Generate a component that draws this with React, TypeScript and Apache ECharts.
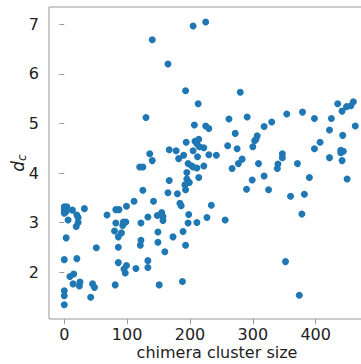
import React, { useEffect, useRef } from "react";
import * as echarts from "echarts";

const clusterSize: number[] = [
  0, 4, 0, 3, 0, 13, 20, 22, 32, 6, 22, 19, 3, 51, 0, 20, 15, 9, 14, 25, 24, 45, 48, 0, 0, 42, 0,
  68, 82, 87, 99, 111, 125, 142, 82, 94, 98, 93, 122, 133, 80, 91, 86, 122, 121, 86, 86, 99, 95, 97, 114, 133, 133, 81,
  120, 125, 140, 136, 130, 140, 151, 149, 149, 160, 155, 148, 157, 157,
  165, 193, 205, 225, 280, 213, 207, 262, 291, 225, 230, 272, 194, 208, 214, 211, 215, 222, 167, 178, 205, 260, 275, 300,
  230, 242, 190, 182, 212, 283, 197, 203, 205, 211, 222, 303, 195, 195, 199, 192, 193, 167, 214, 165, 180, 184, 186, 234,
  198, 227, 256, 197, 211, 189, 173, 193, 188, 267, 277, 299, 290,
  435, 442, 449, 456, 460, 354, 379, 398, 425, 318, 330, 463, 307, 305, 422, 443, 407, 398, 347, 347, 440, 444, 440, 422,
  442, 309, 340, 339, 371, 318, 325, 360, 382, 390, 450, 378, 352, 374,
];

const dc: number[] = [
  3.32, 3.32, 3.26, 3.22, 3.19, 3.25, 3.15, 3.1, 3.28, 3.05, 3.0, 2.92, 2.69, 2.49, 2.25, 2.27, 1.96, 1.91, 1.76, 1.8, 1.72, 1.76, 1.69, 1.62, 1.52, 1.49, 1.34,
  3.15, 3.26, 3.26, 3.33, 3.43, 3.65, 3.43, 2.99, 3.01, 3.01, 2.94, 2.99, 3.11, 2.83, 2.79, 2.71, 2.64, 2.54, 2.5, 2.19, 2.13, 2.06, 1.98, 2.07, 2.23, 2.09, 1.74,
  4.12, 4.12, 4.25, 4.39, 5.12, 6.69, 1.74, 2.81, 2.6, 2.41, 3.2, 3.14, 3.12, 3.04,
  6.2, 5.66, 6.97, 7.05, 5.63, 5.4, 4.97, 5.09, 5.13, 4.95, 4.9, 4.8, 4.62, 4.64, 4.68, 4.59, 4.53, 4.51, 4.47, 4.45, 4.45, 4.55, 4.49, 4.53,
  4.37, 4.36, 4.36, 4.29, 4.33, 4.28, 4.19, 4.14, 4.12, 4.1, 4.14, 4.65, 4.01, 3.88, 3.81, 3.76, 3.66, 3.85, 3.91, 3.6, 3.58, 3.39, 3.34, 3.35,
  3.16, 3.1, 3.05, 2.99, 3.0, 2.82, 2.71, 2.54, 1.81, 4.09, 4.19, 3.86, 3.67,
  5.4, 5.25, 5.34, 5.36, 5.44, 5.19, 5.23, 5.1, 5.1, 4.94, 5.03, 4.95, 4.75, 4.68, 4.87, 4.76, 4.62, 4.49, 4.39, 4.31, 4.46, 4.44, 4.41, 4.31,
  4.25, 4.19, 4.18, 4.09, 4.19, 3.94, 3.66, 3.53, 3.57, 3.91, 3.88, 3.17, 2.21, 1.53,
];

const xTicks: number[] = [0, 100, 200, 300, 400];
const yTicks: number[] = [2, 3, 4, 5, 6, 7];

export default function App() {
  const ref = useRef<HTMLDivElement>(null);
  useEffect(() => {
    if (!ref.current) return;
    const chart = echarts.init(ref.current, null, { renderer: "svg" });
    const points = clusterSize.map((x, i) => [x, dc[i]]);
    const font = "DejaVu Sans";
    chart.setOption({
      animation: false,
      grid: {
        left: 49,
        top: 7,
        bottom: 45,
        right: -24,
        containLabel: false,
        outerBoundsMode: "none",
        show: true,
        borderColor: "#999",
        borderWidth: 1,
        backgroundColor: "transparent",
      },
      xAxis: {
        type: "value",
        min: -24.3,
        max: 510.3,
        splitLine: { show: false },
        axisLine: { show: false },
        axisTick: { show: true, length: 5, lineStyle: { color: "#999" }, customValues: xTicks },
        axisLabel: { margin: 8, color: "#222", fontSize: 16, lineHeight: 14, fontFamily: font, customValues: xTicks, hideOverlap: false },
        name: "chimera cluster size",
        nameLocation: "middle",
        nameGap: 26,
        nameMoveOverlap: false,
        nameTextStyle: { color: "#222", fontSize: 16, lineHeight: 14, fontFamily: font, verticalAlign: "top" },
      },
      yAxis: {
        type: "value",
        min: 1.051,
        max: 7.353,
        splitLine: { show: false },
        axisLine: { show: false },
        axisTick: { show: true, length: 5, lineStyle: { color: "#999" }, customValues: yTicks },
        axisLabel: { margin: 10, color: "#222", fontSize: 16, fontFamily: font, customValues: yTicks },
        name: "{d|d}{c|c}",
        nameLocation: "middle",
        nameGap: 21,
        nameRotate: 90,
        nameMoveOverlap: false,
        nameTextStyle: {
          color: "#222",
          fontFamily: font,
          rich: {
            d: { fontSize: 17, fontStyle: "italic", fontFamily: font, color: "#222" },
            c: { fontSize: 12, fontStyle: "italic", fontFamily: font, color: "#222", verticalAlign: "bottom", padding: [8, 0, 0, 0] },
          },
        },
      },
      series: [
        {
          type: "scatter",
          data: points,
          symbolSize: 7,
          itemStyle: { color: "#1f77b4", opacity: 1 },
        },
      ],
    });
    return () => chart.dispose();
  }, []);
  return <div ref={ref} style={{ width: 361, height: 364, position: "absolute", left: 0, top: 0 }} />;
}
